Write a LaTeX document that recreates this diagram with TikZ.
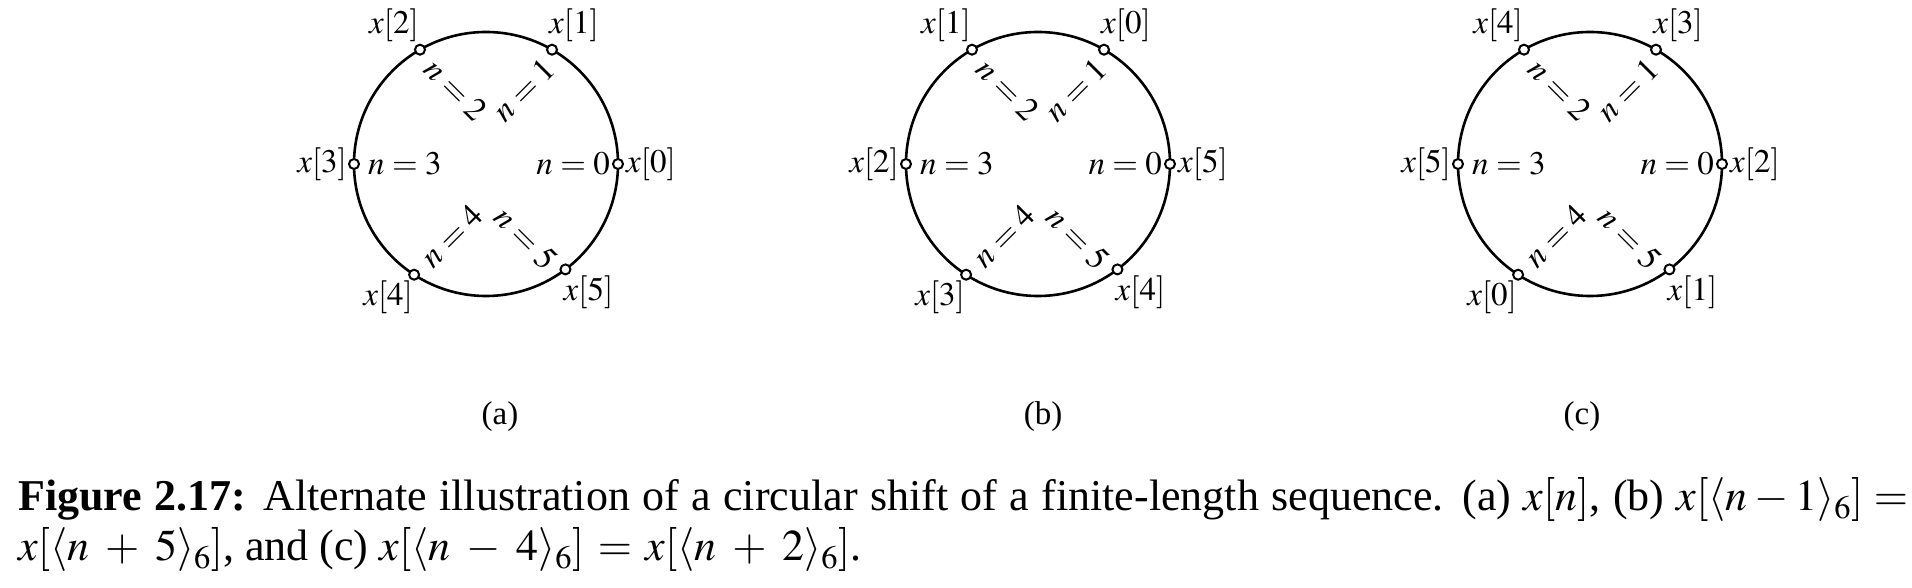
\documentclass[tikz,border=0pt]{standalone}
\usepackage{mathptmx}
\usepackage{fontspec}
\setmainfont{Liberation Serif}
\usetikzlibrary{calc}
\begin{document}
\begin{tikzpicture}[x=1pt,y=1pt,
  ring/.style={line width=2.6pt},
  dot/.style={circle, draw, line width=2pt, fill=white, inner sep=0pt, minimum size=10pt},
  lbl/.style={font=\fontsize{33}{40}\selectfont, inner sep=0pt},
  captext/.style={font=\fontsize{44}{52}\selectfont, inner sep=0pt}]
\useasboundingbox (0,0) rectangle (1912,588);
\foreach \cx/\nm/\sh/\sub/\sx in {486/a/0/a/500, 1038/b/5/b/1043, 1590/c/2/c/1582} {
  \coordinate (\nm-c) at (\cx,424);
  \draw[ring] (\nm-c) circle[radius=132];
  \foreach \k/\ang in {0/0, 1/60, 2/120, 3/180, 4/237, 5/307} {
    \node[dot] (\nm-p\k) at ($(\nm-c)+(\ang:132)$) {};
  }
  \pgfmathtruncatemacro\ia{mod(0+\sh,6)}
  \pgfmathtruncatemacro\ib{mod(1+\sh,6)}
  \pgfmathtruncatemacro\ic{mod(2+\sh,6)}
  \pgfmathtruncatemacro\id{mod(3+\sh,6)}
  \pgfmathtruncatemacro\ie{mod(4+\sh,6)}
  \pgfmathtruncatemacro\iF{mod(5+\sh,6)}
  \node[lbl, anchor=west] (\nm-l0) at ([xshift=2pt]\nm-p0.east) {$x[\ia]$};
  \node[lbl] (\nm-l1) at ($(\nm-p1)+(22,24)$) {$x[\ib]$};
  \node[lbl] (\nm-l2) at ($(\nm-p2)+(-26,24)$) {$x[\ic]$};
  \node[lbl, anchor=east] (\nm-l3) at ([xshift=-1pt]\nm-p3.west) {$x[\id]$};
  \node[lbl] (\nm-l4) at ($(\nm-p4)+(-26,-23)$) {$x[\ie]$};
  \node[lbl] (\nm-l5) at ($(\nm-p5)+(23,-23)$) {$x[\iF]$};
  \node[lbl, anchor=east] (\nm-n0) at ([xshift=-2pt]\nm-p0.west) {$n=0$};
  \node[lbl, rotate=45] (\nm-n1) at ($(\nm-c)+(38,74)$) {$n=1$};
  \node[lbl, rotate=-45] (\nm-n2) at ($(\nm-c)+(-30,74)$) {$n=2$};
  \node[lbl, anchor=west] (\nm-n3) at ([xshift=8pt]\nm-p3.east) {$n=3$};
  \node[lbl, rotate=45] (\nm-n4) at ($(\nm-c)+(-34,-72)$) {$n=4$};
  \node[lbl, rotate=-45] (\nm-n5) at ($(\nm-c)+(40,-74)$) {$n=5$};
  \node[lbl] (\nm-sub) at (\sx,171) {(\sub)};
}
\node[captext, anchor=base west] (cap1) at (18,77) {\makebox[1890pt][s]{\textbf{Figure 2.17:} Alternate illustration of a circular shift of a finite-length sequence. (a) $x[n]$, (b) $x[\langle n-1\rangle_6]=$}};
\node[captext, anchor=base west] (cap2) at (18,27) {\medmuskip=6.5mu\thickmuskip=5.5mu$x[\langle n+5\rangle_6]$, and (c) $x[\langle n-4\rangle_6]=x[\langle n+2\rangle_6]$.};
\end{tikzpicture}
\end{document}
